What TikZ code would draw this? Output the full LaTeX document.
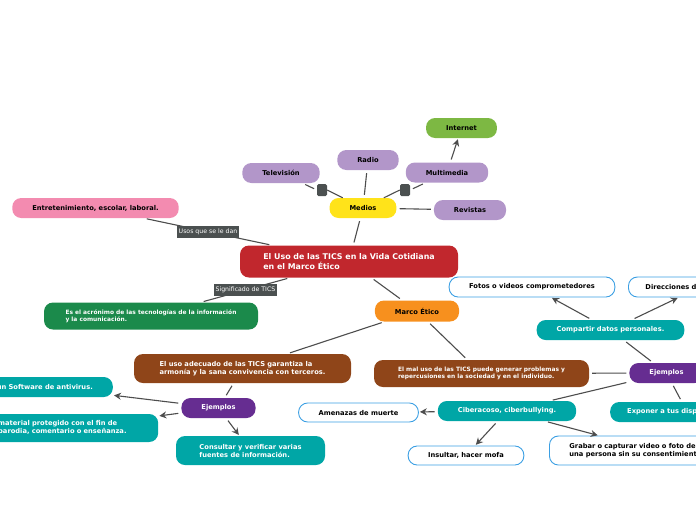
\documentclass[tikz,border=0pt]{standalone}
\usepackage{fontspec}
\setmainfont{DejaVu Sans}
\usetikzlibrary{arrows.meta}

% palette of the map
\definecolor{ticred}{HTML}{C1272D}
\definecolor{ticyellow}{HTML}{FFE31A}
\definecolor{ticlilac}{HTML}{B296C9}
\definecolor{ticlime}{HTML}{7DB843}
\definecolor{ticpink}{HTML}{F38BB0}
\definecolor{ticgreen}{HTML}{1B8A4B}
\definecolor{ticorange}{HTML}{F7901E}
\definecolor{ticbrown}{HTML}{8F4519}
\definecolor{ticpurple}{HTML}{662D91}
\definecolor{ticteal}{HTML}{00A6A6}
\definecolor{ticblue}{HTML}{3B9FE3}
\definecolor{tictag}{HTML}{4B5050}
\definecolor{ticline}{HTML}{4D4D4D}

\tikzset{
    topic/.style={rounded corners=9pt, minimum height=20pt, inner xsep=20pt, inner ysep=2pt,
        align=left, font=\bfseries\fontsize{6.7}{8}\selectfont},
    whitetopic/.style={topic, text=white},
    outlined/.style={topic, draw=ticblue, line width=0.9pt, fill=white},
    smalltext/.style={font=\bfseries\fontsize{5.9}{6.8}\selectfont},
    tag/.style={fill=tictag, text=white, inner sep=2pt, minimum height=12pt,
        font=\fontsize{6.2}{7}\selectfont},
    knot/.style={fill=tictag, rounded corners=1.5pt, minimum width=10pt, minimum height=12pt, inner sep=0pt},
    link/.style={draw=ticline, line width=1.1pt, shorten <=3pt, shorten >=3pt},
    arrow/.style={link, shorten >=1pt, -{Stealth[length=7pt,width=7pt]}}
}

\begin{document}
\begin{tikzpicture}[x=1pt, y=-1pt]
    % keep the page at the size of the reference
    \useasboundingbox (0,0) rectangle (696,520);

    % main topic
    \node[whitetopic, fill=ticred, minimum width=218pt, minimum height=32pt,
        font=\bfseries\fontsize{7.9}{9.4}\selectfont] (main) at (349,261.5)
        {El Uso de las TICS en la Vida Cotidiana\\en el Marco Ético};

    % media branch
    \node[topic, fill=ticyellow, minimum width=60pt] (medios) at (363,208) {Medios};
    \node[topic, fill=ticlilac, minimum width=72pt] (tele) at (281,173) {Televisión};
    \node[topic, fill=ticlilac, minimum width=55pt] (radio) at (368,160) {Radio};
    \node[topic, fill=ticlilac, minimum width=76pt] (multi) at (447,172.5) {Multimedia};
    \node[topic, fill=ticlilac, minimum width=66pt] (revistas) at (470,210) {Revistas};
    \node[topic, fill=ticlime, minimum width=66pt] (internet) at (461.5,128) {Internet};
    \node[knot] (knottele) at (322,190) {};
    \node[knot] (knotmulti) at (405,190) {};

    % uses and meaning
    \node[topic, fill=ticpink, minimum width=165pt] (usos) at (95.5,208) {Entretenimiento, escolar, laboral.};
    \node[whitetopic, smalltext, fill=ticgreen, minimum width=214pt, minimum height=27pt] (acronimo) at (151,316)
        {Es el acrónimo de las tecnologías de la información\\y la comunicación.};

    % ethical frame
    \node[topic, fill=ticorange, minimum width=78pt, minimum height=21pt] (marco) at (417,311) {Marco Ético};
    \node[whitetopic, fill=ticbrown, minimum width=217pt, minimum height=29pt] (adecuado) at (242.5,368.5)
        {El uso adecuado de las TICS garantiza la\\armonía y la sana convivencia con terceros.};
    \node[whitetopic, smalltext, fill=ticbrown, minimum width=215pt, minimum height=27pt] (maluso) at (481.5,373.5)
        {El mal uso de las TICS puede generar problemas y\\repercusiones en la sociedad y en el individuo.};

    % examples of good use
    \node[whitetopic, fill=ticpurple, minimum width=69pt] (ejemplosbien) at (218.5,408) {Ejemplos};
    \node[whitetopic, fill=ticteal, anchor=east] (antivirus) at (113,387) {un Software de antivirus.};
    \node[whitetopic, fill=ticteal, anchor=west, text width=140pt, minimum height=28pt] (material) at (-22,428)
        {material protegido con el fin de\\parodia, comentario o enseñanza.};
    \node[whitetopic, fill=ticteal, minimum width=149pt, minimum height=29pt] (consultar) at (250.5,450.5)
        {Consultar y verificar varias\\fuentes de información.};

    % examples of bad use
    \node[whitetopic, fill=ticpurple, minimum width=69pt] (ejemplosmal) at (666.5,373) {Ejemplos};
    \node[whitetopic, fill=ticteal, minimum width=145pt] (compartir) at (610.5,330) {Compartir datos personales.};
    \node[outlined, minimum width=162pt] (fotos) at (532,287) {Fotos o videos comprometedores};
    \node[outlined, anchor=west, inner xsep=17pt, text width=110pt] (direcciones) at (628,287) {Direcciones de};
    \node[whitetopic, fill=ticteal, minimum width=134pt] (ciber) at (507,411) {Ciberacoso, ciberbullying.};
    \node[whitetopic, fill=ticteal, anchor=west, inner xsep=17pt, text width=120pt] (exponer) at (610,412) {Exponer a tus dispositivos};
    \node[outlined, minimum width=115pt, minimum height=19pt] (amenazas) at (358.5,412.5) {Amenazas de muerte};
    \node[outlined, minimum width=112pt, minimum height=19pt] (insultar) at (466,455.5) {Insultar, hacer mofa};
    \node[outlined, anchor=west, text width=170pt, minimum height=29pt] (grabar) at (549,450.5)
        {Grabar o capturar video o foto de\\una persona sin su consentimiento.};

    % connectors of the media branch
    \draw[link] (main) -- (medios);
    \draw[link] (medios) -- (knottele.east) (knottele.west) -- (tele);
    \draw[link] (medios) -- (radio);
    \draw[link] (medios) -- (knotmulti.west) (knotmulti.east) -- (multi);
    \draw[link] (medios) -- (revistas);
    \draw[arrow] (multi) -- (internet);

    % labelled connectors
    \draw[link] (main) -- node[tag] (usostag) {Usos que se le dan} (usos);
    \draw[link] (main) -- node[tag] (sigtag) {Significado de TICS} (acronimo);

    % connectors of the ethical frame
    \draw[link] (main) -- (marco);
    \draw[link] (marco) -- (adecuado);
    \draw[link] (marco) -- (maluso);
    \draw[link] (adecuado) -- (ejemplosbien);
    \foreach \target in {antivirus, material, consultar}
        \draw[arrow] (ejemplosbien) -- (\target);
    \draw[link] (maluso) -- (ejemplosmal);
    \foreach \target in {compartir, ciber, exponer}
        \draw[link] (ejemplosmal) -- (\target);
    \foreach \target in {fotos, direcciones}
        \draw[arrow] (compartir) -- (\target);
    \foreach \target in {amenazas, insultar, grabar}
        \draw[arrow] (ciber) -- (\target);
\end{tikzpicture}
\end{document}
